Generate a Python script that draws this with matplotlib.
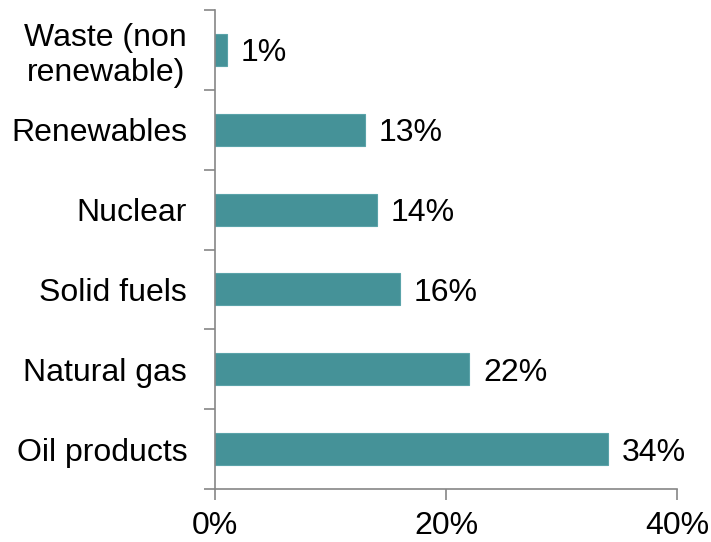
import matplotlib
matplotlib.use("Agg")
import matplotlib.pyplot as plt
import numpy as np

categories = ["Oil products", "Natural gas", "Solid fuels", "Nuclear", "Renewables", "Waste (non\nrenewable)"]
values = [34, 22, 16, 14, 13, 1]
xticks = [0, 20, 40]
xticklabels = ["0%", "20%", "40%"]

plt.rcParams['font.family'] = ['Liberation Sans', 'DejaVu Sans']

fig = plt.figure(figsize=(7.11, 5.42), dpi=100)
ax = fig.add_axes([215/711, 1-489/542, 462/711, 479/542])

bar_color = "#459298"
gray = "#868686"
fs = 23
y = np.arange(len(categories))
ax.barh(y, values, height=0.4, color=bar_color, edgecolor="#5aa3a9", linewidth=0.8)

for yi, v in zip(y, values):
    ax.annotate(f"{v}%", xy=(v, yi), xytext=(10, 0), textcoords="offset points",
                ha="left", va="center_baseline", fontsize=fs, color="#000000")

ax.set_xlim(0, 40)
ax.set_ylim(-0.5, len(categories) - 0.5)
ax.set_xticks(xticks)
ax.set_xticklabels(xticklabels, fontsize=fs)

ax.set_yticks(np.arange(-0.5, len(categories), 1.0))
ax.set_yticklabels([])
ax.set_yticks(y, minor=True)
ax.set_yticklabels(categories, minor=True, fontsize=fs, multialignment="center")
ax.tick_params(axis="y", which="minor", length=0, pad=20)
ax.tick_params(axis="y", which="major", length=8, width=1.2, color=gray, direction="out")
ax.tick_params(axis="x", length=8, width=1.2, color=gray, direction="out", pad=8)

for s in ["top", "right"]:
    ax.spines[s].set_visible(False)
for s in ["left", "bottom"]:
    ax.spines[s].set_color(gray)
    ax.spines[s].set_linewidth(1.2)

fig.savefig("out.png", dpi=100)
